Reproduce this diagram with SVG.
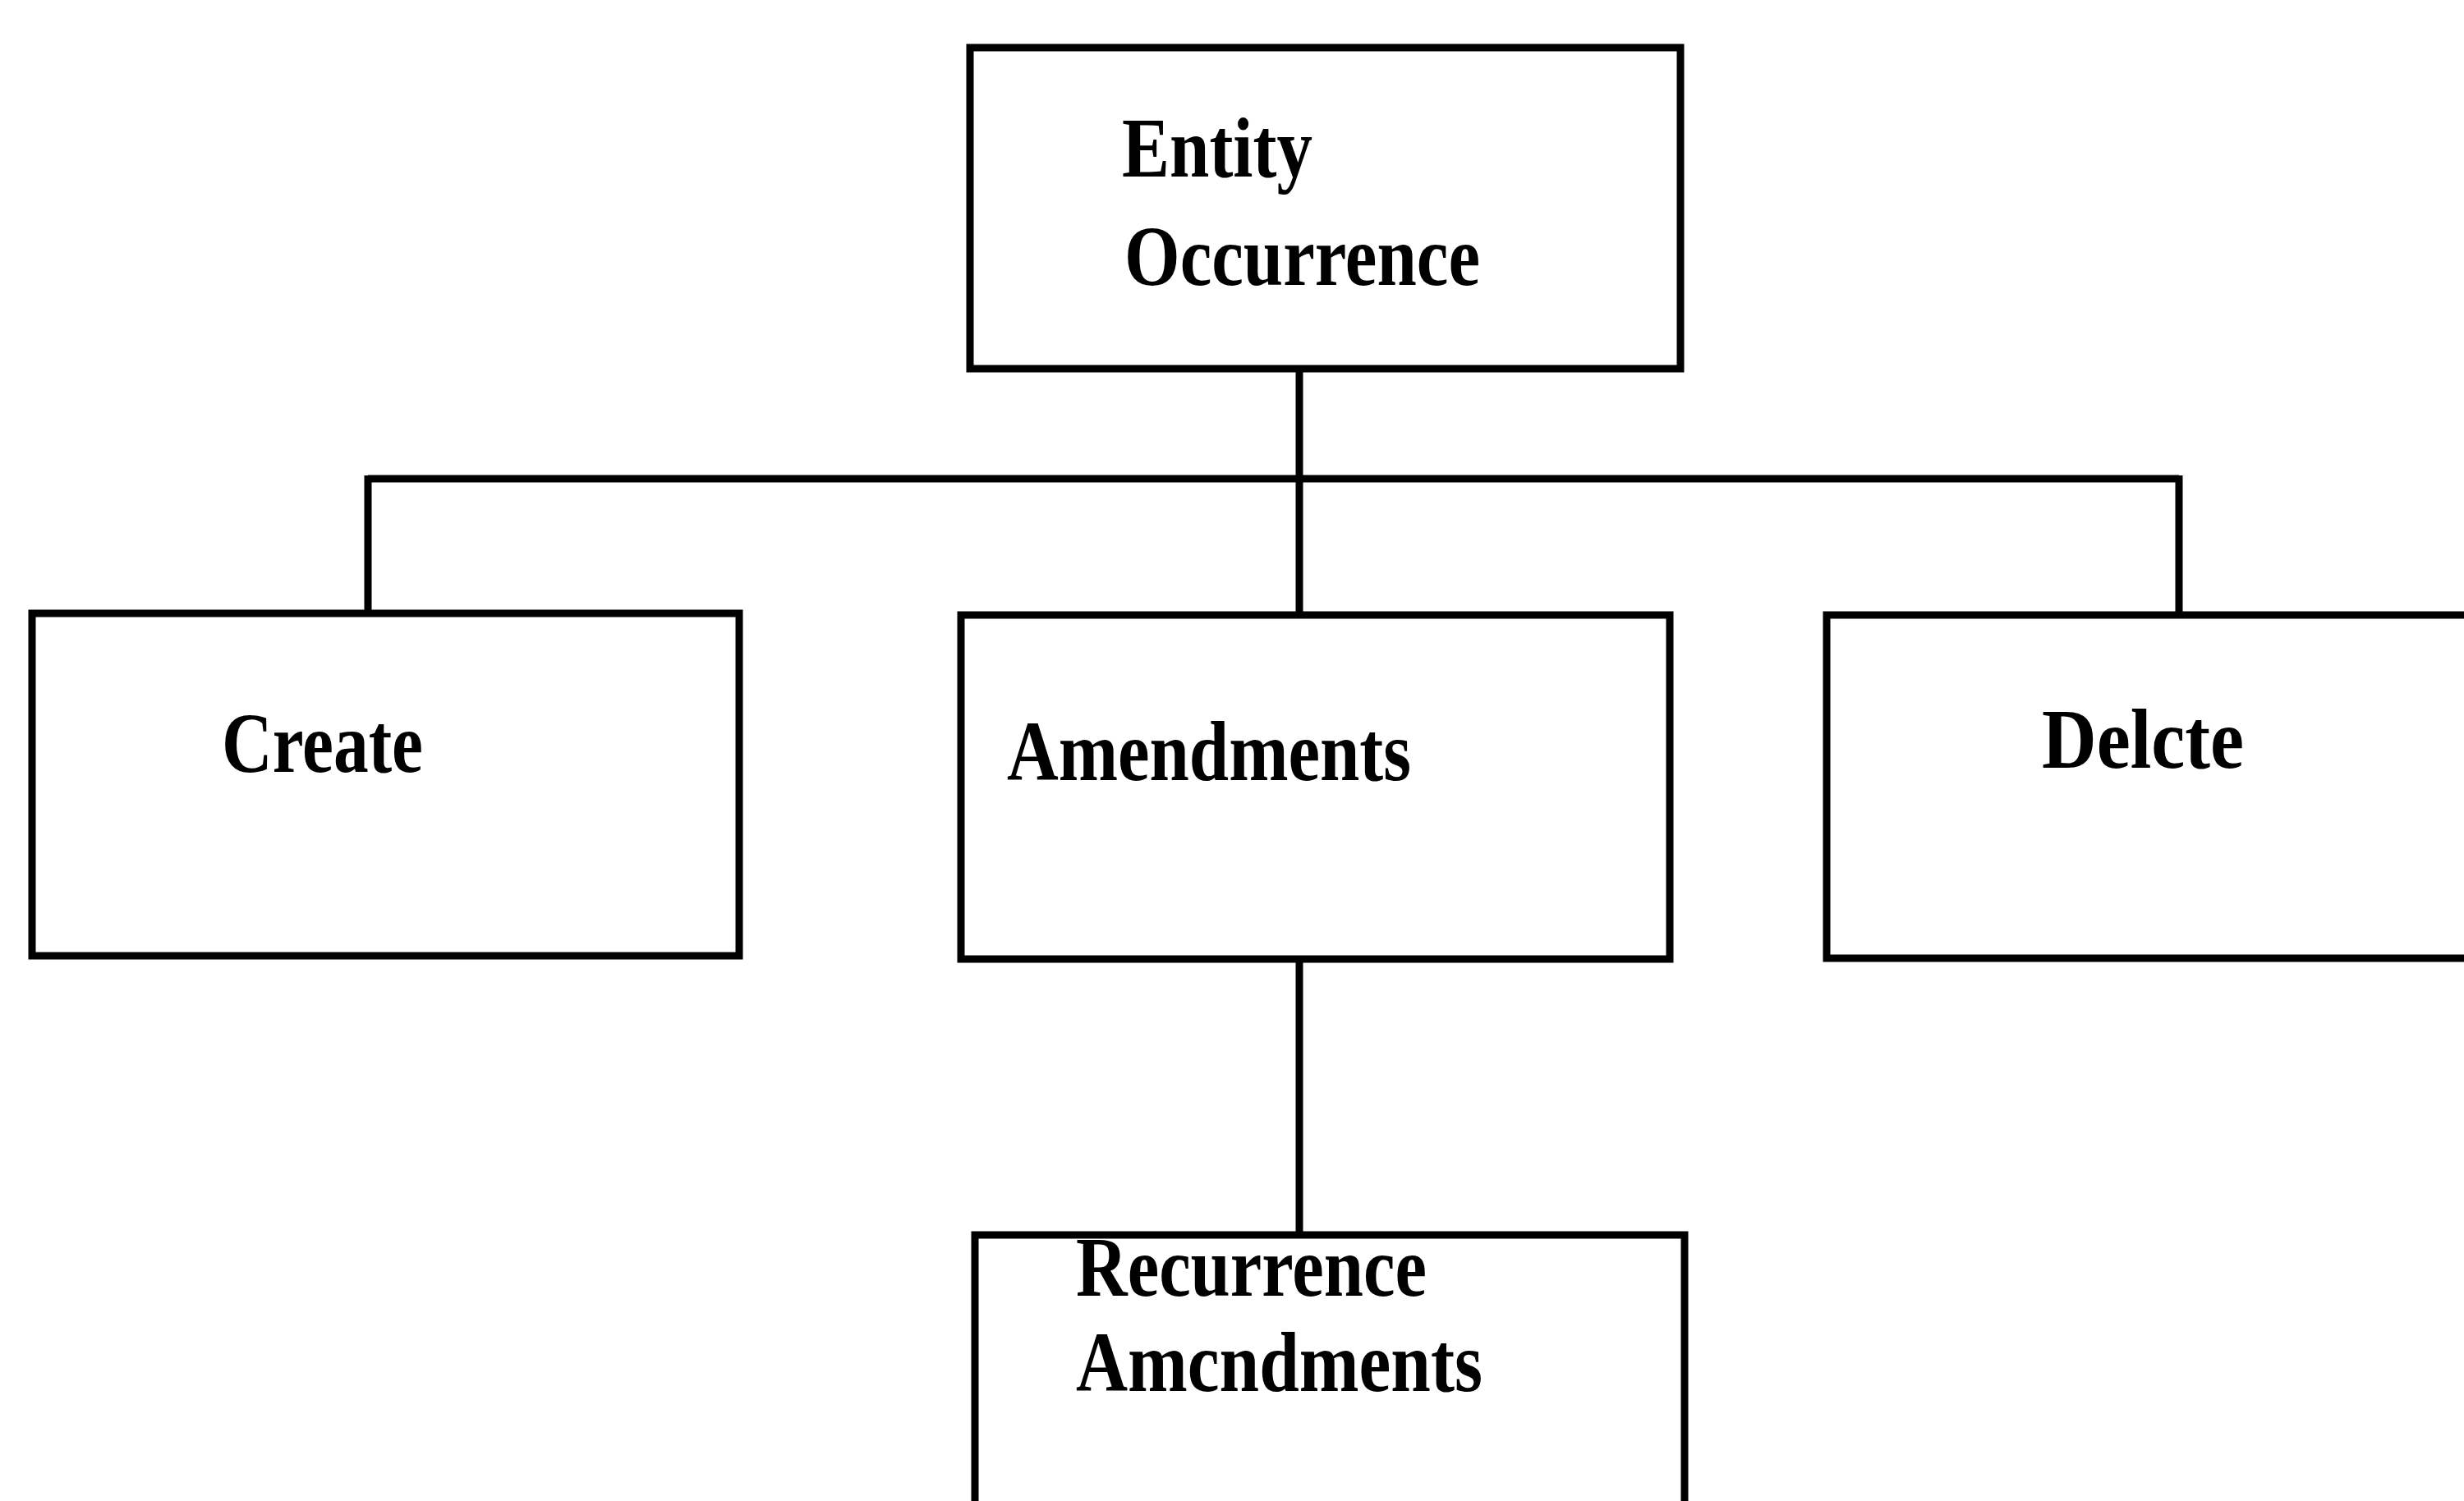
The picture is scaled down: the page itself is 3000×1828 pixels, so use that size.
<svg xmlns="http://www.w3.org/2000/svg" width="3000" height="1828" viewBox="0 0 3000 1828">
  <style>
    .box { fill: #ffffff; stroke: #000000; stroke-width: 9; }
    .link { fill: none; stroke: #000000; stroke-width: 9; stroke-linecap: butt; }
    .label { font-family: "Liberation Serif", "Times New Roman", serif; font-weight: bold; font-size: 104px; fill: #000000; }
  </style>
  <rect x="0" y="0" width="3000" height="1828" fill="#ffffff"/>

  <g id="connectors">
    <!-- trunk from the root down to the bus and into Amendments -->
    <path class="link" d="M1582 449 V753"/>
    <!-- horizontal bus -->
    <path class="link" d="M448 583 H2653"/>
    <!-- drops to Create and Delete -->
    <path class="link" d="M448 579 V756"/>
    <path class="link" d="M2653 579 V753"/>
    <!-- Amendments to Recurrence Amendments -->
    <path class="link" d="M1582 1146 V1522"/>
  </g>

  <g id="entity-occurrence">
    <rect class="box" x="1181" y="58" width="865" height="391"/>
    <text class="label" x="1366" y="215" textLength="232" lengthAdjust="spacingAndGlyphs">Entity</text>
    <text class="label" x="1369" y="347" textLength="433" lengthAdjust="spacingAndGlyphs">Occurrence</text>
  </g>

  <g id="create">
    <rect class="box" x="39" y="747" width="861" height="417"/>
    <text class="label" x="270" y="940" textLength="245" lengthAdjust="spacingAndGlyphs">Create</text>
  </g>

  <g id="amendments">
    <rect class="box" x="1170" y="749" width="863" height="419"/>
    <text class="label" x="1226" y="950" textLength="492" lengthAdjust="spacingAndGlyphs">Amendments</text>
  </g>

  <g id="delete">
    <rect class="box" x="2224" y="749" width="800" height="418"/>
    <text class="label" x="2486" y="935" textLength="246" lengthAdjust="spacingAndGlyphs">Delcte</text>
  </g>

  <g id="recurrence-amendments">
    <rect class="box" x="1187" y="1504" width="864" height="360"/>
    <text class="label" x="1310" y="1578" textLength="427" lengthAdjust="spacingAndGlyphs">Recurrence</text>
    <text class="label" x="1310" y="1694" textLength="495" lengthAdjust="spacingAndGlyphs">Amcndments</text>
  </g>
</svg>
